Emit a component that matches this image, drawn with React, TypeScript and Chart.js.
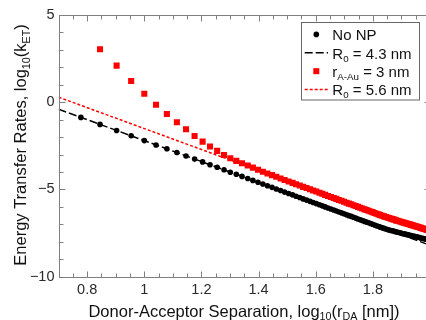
import React, { useEffect, useRef } from 'react';
import { Chart, registerables } from 'chart.js';

Chart.register(...registerables);

const xMin = 0.7;
const xMax = 2.0;
const yMin = -10;
const yMax = 5;
const xTickValues = [0.8, 1.0, 1.2, 1.4, 1.6, 1.8, 2.0];
const xTickLabels = ['0.8', '1', '1.2', '1.4', '1.6', '1.8', '2'];
const yTickValues = [5, 0, -5, -10];
const yTickLabels = ['5', '0', '\u22125', '\u221210'];

// log10(r_DA) for the "No NP" series
const noNpX = [0.778, 0.845, 0.903, 0.954, 1.000, 1.041, 1.079, 1.114, 1.146, 1.176, 1.204, 1.230, 1.255, 1.279, 1.301, 1.322, 1.342, 1.362, 1.380, 1.398, 1.415, 1.431, 1.447, 1.462, 1.477, 1.491, 1.505, 1.519, 1.531, 1.544, 1.556, 1.568, 1.580, 1.591, 1.602, 1.613, 1.623, 1.633, 1.643, 1.653, 1.663, 1.672, 1.681, 1.690, 1.699, 1.708, 1.716, 1.724, 1.732, 1.740, 1.748, 1.756, 1.763, 1.771, 1.778, 1.785, 1.792, 1.799, 1.806, 1.813, 1.820, 1.826, 1.833, 1.839, 1.845, 1.851, 1.857, 1.863, 1.869, 1.875, 1.881, 1.886, 1.892, 1.898, 1.903, 1.908, 1.914, 1.919, 1.924, 1.929, 1.934, 1.940, 1.944, 1.949, 1.954, 1.959, 1.964, 1.968, 1.973, 1.978, 1.982, 1.987, 1.991, 1.996, 2.000];
const noNpY = [-0.87, -1.27, -1.62, -1.92, -2.20, -2.45, -2.67, -2.88, -3.08, -3.26, -3.42, -3.58, -3.73, -3.87, -4.01, -4.13, -4.25, -4.37, -4.48, -4.59, -4.69, -4.79, -4.88, -4.97, -5.06, -5.15, -5.23, -5.31, -5.39, -5.46, -5.54, -5.61, -5.68, -5.75, -5.81, -5.88, -5.94, -6.00, -6.06, -6.12, -6.18, -6.23, -6.29, -6.34, -6.39, -6.45, -6.50, -6.54, -6.59, -6.64, -6.69, -6.74, -6.78, -6.83, -6.87, -6.91, -6.95, -6.99, -7.04, -7.08, -7.12, -7.16, -7.20, -7.23, -7.27, -7.30, -7.32, -7.35, -7.37, -7.40, -7.43, -7.45, -7.47, -7.50, -7.52, -7.54, -7.56, -7.58, -7.60, -7.62, -7.64, -7.67, -7.68, -7.70, -7.72, -7.74, -7.76, -7.78, -7.80, -7.82, -7.83, -7.85, -7.87, -7.89, -7.90];

// log10(r_DA) for the r_A-Au = 3 nm series
const rAuX = [0.845, 0.903, 0.954, 1.000, 1.041, 1.079, 1.114, 1.146, 1.176, 1.204, 1.230, 1.255, 1.279, 1.301, 1.322, 1.342, 1.362, 1.380, 1.398, 1.415, 1.431, 1.447, 1.462, 1.477, 1.491, 1.505, 1.519, 1.531, 1.544, 1.556, 1.568, 1.580, 1.591, 1.602, 1.613, 1.623, 1.633, 1.643, 1.653, 1.663, 1.672, 1.681, 1.690, 1.699, 1.708, 1.716, 1.724, 1.732, 1.740, 1.748, 1.756, 1.763, 1.771, 1.778, 1.785, 1.792, 1.799, 1.806, 1.813, 1.820, 1.826, 1.833, 1.839, 1.845, 1.851, 1.857, 1.863, 1.869, 1.875, 1.881, 1.886, 1.892, 1.898, 1.903, 1.908, 1.914, 1.919, 1.924, 1.929, 1.934, 1.940, 1.944, 1.949, 1.954, 1.959, 1.964, 1.968, 1.973, 1.978, 1.982, 1.987, 1.991, 1.996, 2.000];
const rAuY = [3.04, 2.10, 1.22, 0.49, -0.14, -0.67, -1.15, -1.55, -1.94, -2.26, -2.54, -2.79, -3.02, -3.21, -3.36, -3.50, -3.63, -3.75, -3.87, -3.98, -4.08, -4.18, -4.27, -4.37, -4.46, -4.54, -4.62, -4.70, -4.77, -4.85, -4.92, -4.99, -5.06, -5.12, -5.19, -5.25, -5.31, -5.37, -5.43, -5.49, -5.54, -5.60, -5.65, -5.70, -5.76, -5.81, -5.85, -5.90, -5.95, -6.00, -6.05, -6.09, -6.14, -6.18, -6.22, -6.26, -6.30, -6.35, -6.39, -6.43, -6.47, -6.51, -6.54, -6.58, -6.61, -6.64, -6.67, -6.70, -6.73, -6.77, -6.79, -6.82, -6.85, -6.88, -6.90, -6.93, -6.95, -6.98, -7.00, -7.03, -7.06, -7.08, -7.10, -7.13, -7.15, -7.18, -7.20, -7.23, -7.25, -7.27, -7.30, -7.32, -7.34, -7.36];

// Fit lines (endpoints at the axis limits)
const fitX = [0.7, 2.0];
const fitR043Y = [-0.4, -8.2];
const fitR056Y = [0.29, -7.51];

const FONT = '"Liberation Sans", Arial, sans-serif';

type Seg = { t: string; sub?: boolean };

function richWidth(ctx: CanvasRenderingContext2D, segs: Seg[], size: number) {
  let w = 0;
  for (const s of segs) {
    ctx.font = `${s.sub ? size * 0.65 : size}px ${FONT}`;
    w += ctx.measureText(s.t).width;
  }
  return w;
}

function drawRich(ctx: CanvasRenderingContext2D, segs: Seg[], x: number, y: number, size: number, align: 'left' | 'center', color: string) {
  const w = richWidth(ctx, segs, size);
  let cx = align === 'center' ? x - w / 2 : x;
  ctx.textAlign = 'left';
  ctx.textBaseline = 'alphabetic';
  ctx.fillStyle = color;
  for (const s of segs) {
    ctx.font = `${s.sub ? size * 0.65 : size}px ${FONT}`;
    ctx.fillText(s.t, cx, s.sub ? y + size * 0.2 : y);
    cx += ctx.measureText(s.t).width;
  }
}

const overlayPlugin = {
  id: 'overlay',
  afterDraw(chart: any) {
    const ctx: CanvasRenderingContext2D = chart.ctx;
    const a = chart.chartArea;
    const xs = chart.scales.x;
    const ys = chart.scales.y;
    ctx.save();
    const L = Math.round(a.left) + 0.5;
    const R = Math.round(a.right) + 0.5;
    const T = Math.round(a.top) + 0.5;
    const B = Math.round(a.bottom) + 0.5;
    ctx.strokeStyle = '#808080';
    ctx.lineWidth = 1;
    ctx.strokeRect(L, T, R - L, B - T);

    // x ticks (inward, bottom and top)
    ctx.beginPath();
    for (let i = 0; i <= 26; i++) {
      const v = 0.7 + i * 0.05;
      const px = Math.round(xs.getPixelForValue(v)) + 0.5;
      const major = Math.abs(((v - 0.8) / 0.2) - Math.round((v - 0.8) / 0.2)) < 1e-6;
      const len = major ? 6 : 4;
      ctx.moveTo(px, B);
      ctx.lineTo(px, B - len);
      ctx.moveTo(px, T);
      ctx.lineTo(px, T + len);
    }
    for (let v = yMin; v <= yMax; v++) {
      const py = Math.round(ys.getPixelForValue(v)) + 0.5;
      const len = v % 5 === 0 ? 6 : 4;
      ctx.moveTo(L, py);
      ctx.lineTo(L + len, py);
      ctx.moveTo(R, py);
      ctx.lineTo(R - len, py);
    }
    ctx.stroke();

    // tick labels
    ctx.fillStyle = '#2a2a2a';
    ctx.font = `14.5px ${FONT}`;
    ctx.textAlign = 'center';
    ctx.textBaseline = 'alphabetic';
    xTickValues.forEach((v, i) => {
      ctx.fillText(xTickLabels[i], xs.getPixelForValue(v), 294);
    });
    ctx.textAlign = 'right';
    ctx.textBaseline = 'middle';
    yTickValues.forEach((v, i) => {
      ctx.fillText(yTickLabels[i], 54.5, ys.getPixelForValue(v));
    });

    // axis titles
    drawRich(ctx, [
      { t: 'Donor-Acceptor Separation, log' }, { t: '10', sub: true }, { t: '(r' }, { t: 'DA', sub: true }, { t: ' [nm])' },
    ], 244, 316.5, 16.5, 'center', '#111');
    ctx.save();
    ctx.translate(26.2, 145);
    ctx.rotate(-Math.PI / 2);
    drawRich(ctx, [
      { t: 'Energy Transfer Rates, log' }, { t: '10', sub: true }, { t: '(k' }, { t: 'ET', sub: true }, { t: ')' },
    ], 0, 0, 16.5, 'center', '#111');
    ctx.restore();

    // legend
    const bx = 301.5, by = 22.5, bw = 118, bh = 77.5;
    ctx.fillStyle = '#fff';
    ctx.fillRect(bx, by, bw, bh);
    ctx.strokeStyle = '#666';
    ctx.lineWidth = 1;
    ctx.strokeRect(bx, by, bw, bh);
    const symX = 316.3;
    const textX = 332.3;
    const base = [40.2, 58.6, 77, 95.3];
    // No NP dot
    ctx.fillStyle = '#000';
    ctx.beginPath();
    ctx.arc(symX, base[0] - 5.8, 2.8, 0, Math.PI * 2);
    ctx.fill();
    // black dashed
    ctx.strokeStyle = '#000';
    ctx.lineWidth = 1.5;
    ctx.setLineDash([8, 3]);
    ctx.beginPath();
    ctx.moveTo(304.7, base[1] - 5.8);
    ctx.lineTo(328, base[1] - 5.8);
    ctx.stroke();
    // red square
    ctx.setLineDash([]);
    ctx.fillStyle = '#ff0000';
    ctx.fillRect(symX - 3, base[2] - 5.8 - 3, 6, 6);
    // red dotted
    ctx.strokeStyle = '#ff0000';
    ctx.setLineDash([3, 2]);
    ctx.beginPath();
    ctx.moveTo(304.7, base[3] - 5.8);
    ctx.lineTo(328, base[3] - 5.8);
    ctx.stroke();
    ctx.setLineDash([]);

    drawRich(ctx, [{ t: 'No NP' }], textX, base[0], 15, 'left', '#111');
    drawRich(ctx, [{ t: 'R' }, { t: '0', sub: true }, { t: ' = 4.3 nm' }], textX, base[1], 15, 'left', '#111');
    drawRich(ctx, [{ t: 'r' }, { t: 'A-Au', sub: true }, { t: ' = 3 nm' }], textX, base[2], 15, 'left', '#111');
    drawRich(ctx, [{ t: 'R' }, { t: '0', sub: true }, { t: ' = 5.6 nm' }], textX, base[3], 15, 'left', '#111');
    ctx.restore();
  },
};

export default function App() {
  const ref = useRef<HTMLCanvasElement | null>(null);
  useEffect(() => {
    if (!ref.current) return;
    const noNp = noNpX.map((x, i) => ({ x, y: noNpY[i] })).filter((p) => p.y !== undefined);
    const rAu = rAuX.map((x, i) => ({ x, y: rAuY[i] })).filter((p) => p.y !== undefined);
    const fit43 = fitX.map((x, i) => ({ x, y: fitR043Y[i] }));
    const fit56 = fitX.map((x, i) => ({ x, y: fitR056Y[i] }));
    const chart = new Chart(ref.current, {
      type: 'scatter',
      data: {
        datasets: [
          { label: 'No NP', data: noNp, showLine: false, pointRadius: 2.8, backgroundColor: '#000', borderWidth: 0, pointBorderWidth: 0 } as any,
          { label: 'R0 = 4.3 nm', data: fit43, showLine: true, borderColor: '#000', borderWidth: 1.5, borderDash: [8, 3], pointRadius: 0 } as any,
          { label: 'rA-Au = 3 nm', data: rAu, showLine: false, pointStyle: 'rect', pointRadius: 4.3, backgroundColor: '#ff0000', borderWidth: 0, pointBorderWidth: 0 } as any,
          { label: 'R0 = 5.6 nm', data: fit56, showLine: true, borderColor: '#ff0000', borderWidth: 1.5, borderDash: [3, 2], pointRadius: 0 } as any,
        ],
      },
      options: {
        responsive: false,
        animation: false,
        events: [],
        layout: { padding: { left: 58.6, top: 15, right: 10, bottom: 43.3 } },
        scales: {
          x: { type: 'linear', display: false, min: xMin, max: xMax },
          y: { type: 'linear', display: false, min: yMin, max: yMax },
        },
        plugins: { legend: { display: false }, tooltip: { enabled: false } },
      },
      plugins: [overlayPlugin],
    });
    return () => chart.destroy();
  }, []);
  return (
    <div style={{ position: 'fixed', left: 0, top: 0, width: 426, height: 320, overflow: 'hidden', background: '#fff' }}>
      <canvas ref={ref} width={440} height={320} style={{ display: 'block', width: 440, height: 320 }} />
    </div>
  );
}
